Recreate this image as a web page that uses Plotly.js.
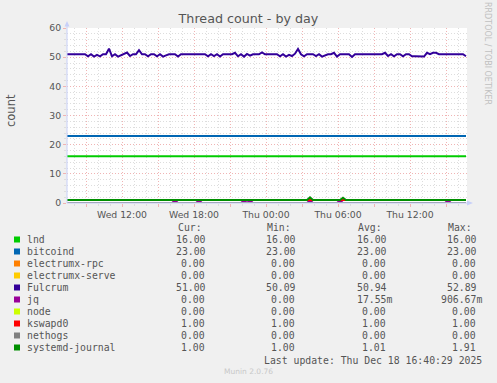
<!DOCTYPE html>
<html><head><meta charset="utf-8">
<script src="https://cdn.plot.ly/plotly-3.0.1.min.js"></script>
<style>html,body{margin:0;padding:0;background:#F0F0F0;}#chart{width:497px;height:383px;}</style>
</head><body><div id="chart"></div>
<script>
// ---- data ----
const START = Date.UTC(2025, 11, 17, 7, 25);   // first sample (Wed 07:25)
const STEP_MIN = 15;                            // sample spacing in minutes
const seriesNames = ["lnd","bitcoind","electrumx-rpc","electrumx-serve","Fulcrum","jq","node","kswapd0","nethogs","systemd-journal"];
const seriesColors = ["#00CC00","#0066B3","#FF8000","#FFCC00","#330099","#990099","#CCFF00","#FF0000","#808080","#008F00"];

const lnd = [16, 16];
const bitcoind = [23, 23];
const electrumxRpc = [0, 0];
const electrumxServe = [0, 0];
const fulcrum = [
  51,51,51,51,51,51,51,50.3,51,50.2,
  50.8,50.3,51,51,52.9,50.3,51,50.2,50.6,51,
  51.6,50.4,51,51,52.4,51,51,50.3,51,51,
  50.3,51,50.2,50.6,51,51,51,50.2,51,51,
  51,51,51,51,51,51,51,50.3,51,50.4,
  51,50.2,51,51,51,51,51.5,50.3,51,50.2,
  51.1,50.5,51,51,51,51.6,51,51,51,51,
  51,50.3,51,50.2,50.8,50.4,51.2,52.8,51,50.3,
  51,51,51,50.4,51,50.2,50.6,51,51,51.5,
  50.2,51,51,51,51,50.1,51,51,51,51,
  51,51,51,51,51,51,51.5,50.4,51,50.3,
  51,51,50.3,51,51,50.3,50.3,50.3,50.3,50.2,
  51.5,51,51.5,51.5,51,51,51,51,51,51,
  51,51,51,50.3
];
const jq = [
  0,0,0,0,0,0,0,0,0,0,
  0,0,0,0,0,0,0,0,0,0,
  0,0,0,0,0,0,0,0,0,0,
  0,0,0,0,0,0,0.9,0,0,0,
  0,0,0,0,0.9,0,0,0,0,0,
  0,0,0,0,0,0,0,0,0,0.9,
  0,0.9,0,0,0,0,0,0,0,0,
  0,0,0,0,0,0,0,0,0,0,
  0,0.9,0,0,0,0,0,0,0,0,
  0,0.9,0,0,0,0,0,0,0,0,
  0,0,0,0,0,0,0,0,0,0,
  0,0,0,0,0,0,0,0,0,0,
  0,0,0,0,0,0,0,0.9,0,0,
  0,0,0,0
];
const node = [0, 0];
const kswapd0 = [1, 1];
const nethogs = [0, 0];
const systemdJournal = [
  1,1,1,1,1,1,1,1,1,1,
  1,1,1,1,1,1,1,1,1,1,
  1,1,1,1,1,1,1,1,1,1,
  1,1,1,1,1,1,1,1,1,1,
  1,1,1,1,1,1,1,1,1,1,
  1,1,1,1,1,1,1,1,1,1,
  1,1,1,1,1,1,1,1,1,1,
  1,1,1,1,1,1,1,1,1,1,
  1,1.91,1,1,1,1,1,1,1,1,
  1,1,1.8,1,1,1,1,1,1,1,
  1,1,1,1,1,1,1,1,1,1,
  1,1,1,1,1,1,1,1,1,1,
  1,1,1,1,1,1,1,1,1,1,
  1,1,1,1
];
const curVals = ["16.00","23.00","0.00","0.00","51.00","0.00","0.00","1.00","0.00","1.00"];
const minVals = ["16.00","23.00","0.00","0.00","50.09","0.00","0.00","1.00","0.00","1.00"];
const avgVals = ["16.00","23.00","0.00","0.00","50.94","17.55m","0.00","1.00","0.00","1.01"];
const maxVals = ["16.00","23.00","0.00","0.00","52.89","906.67m","0.00","1.00","0.00","1.91"];
const xTickVals = ["2025-12-17 09:00","2025-12-17 12:00","2025-12-17 15:00","2025-12-17 18:00","2025-12-17 21:00","2025-12-18 00:00","2025-12-18 03:00","2025-12-18 06:00","2025-12-18 09:00","2025-12-18 12:00","2025-12-18 15:00"];
const xTickText = ["","Wed 12:00","","Wed 18:00","","Thu 00:00","","Thu 06:00","","Thu 12:00",""];
const yTickVals = [0,10,20,30,40,50,60];
const titleText = "Thread count - by day";
const lastUpdate = "Last update: Thu Dec 18 16:40:29 2025";

// ---- helpers ----
function pad(n){return (n<10?"0":"")+n;}
function fmt(ms){const d=new Date(ms);return d.getUTCFullYear()+"-"+pad(d.getUTCMonth()+1)+"-"+pad(d.getUTCDate())+" "+pad(d.getUTCHours())+":"+pad(d.getUTCMinutes());}
function timesFor(arr){
  const n = arr.length;
  const total = (fulcrum.length-1)*STEP_MIN*60000;
  const out=[];
  for(let i=0;i<n;i++){ out.push(fmt(START + (n===1?0:i*total/(n-1)))); }
  return out;
}
const seriesData = [lnd,bitcoind,electrumxRpc,electrumxServe,fulcrum,jq,node,kswapd0,nethogs,systemdJournal];
const traces = seriesData.map((arr,i)=>({
  type:"scatter", mode:"lines", x:timesFor(arr), y:arr, name:seriesNames[i],
  line:{color:seriesColors[i], width:2, shape:"linear"}, hoverinfo:"skip", showlegend:false
}));

// pixel -> paper conversion (plot area: x 67..467, y 28..203)
const L=67, R=467, T=28, B=203;
const px = x => (x-L)/(R-L);
const py = y => (B-y)/(B-T);

const textColor="#555555";
const mono = "DejaVu Sans Mono";
const ann=[];
function A(x,y,text,anchor,font){
  ann.push({xref:"paper",yref:"paper",x:px(x),y:py(y),text:text,showarrow:false,
    xanchor:anchor,yanchor:"middle",borderpad:0,font:font});
}
const shapes=[];
// legend
const rowY0=239.5, rowDY=12;
A(176.5,227.7,"Cur:","left",{family:mono,size:9.8,color:textColor});
A(266,227.7,"Min:","left",{family:mono,size:9.8,color:textColor});
A(356.5,227.7,"Avg:","left",{family:mono,size:9.8,color:textColor});
A(446.5,227.7,"Max:","left",{family:mono,size:9.8,color:textColor});
function sfx(s){ return /[a-zA-Z]$/.test(s) ? s : s+"\u00A0"; }
seriesNames.forEach((nm,i)=>{
  const y=rowY0+i*rowDY;
  shapes.push({type:"rect",xref:"paper",yref:"paper",x0:px(14),x1:px(20),y0:py(y+3),y1:py(y-3),
    fillcolor:seriesColors[i],line:{width:0}});
  A(26,y,nm,"left",{family:mono,size:9.8,color:textColor});
  A(212,y,sfx(curVals[i]),"right",{family:mono,size:9.8,color:textColor});
  A(302,y,sfx(minVals[i]),"right",{family:mono,size:9.8,color:textColor});
  A(392.5,y,sfx(avgVals[i]),"right",{family:mono,size:9.8,color:textColor});
  A(482.5,y,sfx(maxVals[i]),"right",{family:mono,size:9.8,color:textColor});
});
A(483,360,lastUpdate,"right",{family:mono,size:9.8,color:textColor});
A(248,371.5,"Munin 2.0.76","center",{family:"DejaVu Sans",size:7.5,color:"#c8c8c8"});
// y axis title and side watermark
ann.push({xref:"paper",yref:"paper",x:px(11),y:py(110),text:"count",textangle:-90,showarrow:false,
  xanchor:"center",yanchor:"middle",font:{family:"DejaVu Sans",size:11.5,color:textColor}});
ann.push({xref:"paper",yref:"paper",x:px(488),y:py(53),text:"RRDTOOL / TOBI OETIKER",textangle:90,showarrow:false,
  xanchor:"center",yanchor:"middle",font:{family:"DejaVu Sans",size:8,color:"#c0c0c0"}});

// axis lines with arrows
const axisCol="#c8d0f8";
shapes.push({type:"line",xref:"paper",yref:"paper",x0:px(67),x1:px(67),y0:py(203),y1:py(25),line:{color:axisCol,width:1},layer:"above"});
shapes.push({type:"path",xref:"paper",yref:"paper",path:`M ${px(64.5)} ${py(26.5)} L ${px(69.5)} ${py(26.5)} L ${px(67)} ${py(21)} Z`,fillcolor:axisCol,line:{width:0},layer:"above"});
shapes.push({type:"line",xref:"paper",yref:"paper",x0:px(67),x1:px(468),y0:py(203),y1:py(203),line:{color:axisCol,width:1},layer:"above"});
shapes.push({type:"path",xref:"paper",yref:"paper",path:`M ${px(467)} ${py(200.5)} L ${px(467)} ${py(205.5)} L ${px(473)} ${py(203)} Z`,fillcolor:axisCol,line:{width:0},layer:"above"});

const majorGrid="#f0b4b4", minorGrid="#dddddd";
const layout={
  width:497,height:383,
  paper_bgcolor:"#F0F0F0",plot_bgcolor:"#FFFFFF",
  margin:{l:L,r:497-R,t:T,b:383-B,pad:0},
  showlegend:false,
  title:{text:titleText,font:{family:"DejaVu Sans",size:12.7,color:textColor},
    x:0.5,xref:"container",xanchor:"center",y:1-19/383,yref:"container",yanchor:"middle"},
  xaxis:{type:"date",range:["2025-12-17 07:25","2025-12-18 16:45"],
    tickmode:"array",tickvals:xTickVals,ticktext:xTickText,
    showgrid:true,gridcolor:majorGrid,griddash:"1px,2px",gridwidth:1,
    ticks:"outside",ticklen:3,tickcolor:majorGrid,
    tickfont:{family:"DejaVu Sans",size:9.3,color:textColor},
    minor:{dtick:3600000,tick0:"2025-12-17 00:00",showgrid:true,gridcolor:minorGrid,griddash:"1px,2px",
      ticks:"outside",ticklen:2,tickcolor:minorGrid},
    showline:false,zeroline:false,fixedrange:true},
  yaxis:{range:[0,60],tickmode:"array",tickvals:yTickVals,
    showgrid:true,gridcolor:majorGrid,griddash:"1px,2px",gridwidth:1,
    ticks:"outside",ticklen:3,tickcolor:majorGrid,
    tickfont:{family:"DejaVu Sans",size:9.3,color:textColor},
    minor:{dtick:2,tick0:0,showgrid:true,gridcolor:minorGrid,griddash:"1px,2px",
      ticks:"outside",ticklen:2,tickcolor:minorGrid},
    showline:false,zeroline:false,fixedrange:true},
  annotations:ann,shapes:shapes
};
Plotly.newPlot("chart",traces,layout,{staticPlot:true,displayModeBar:false});
</script></body></html>
